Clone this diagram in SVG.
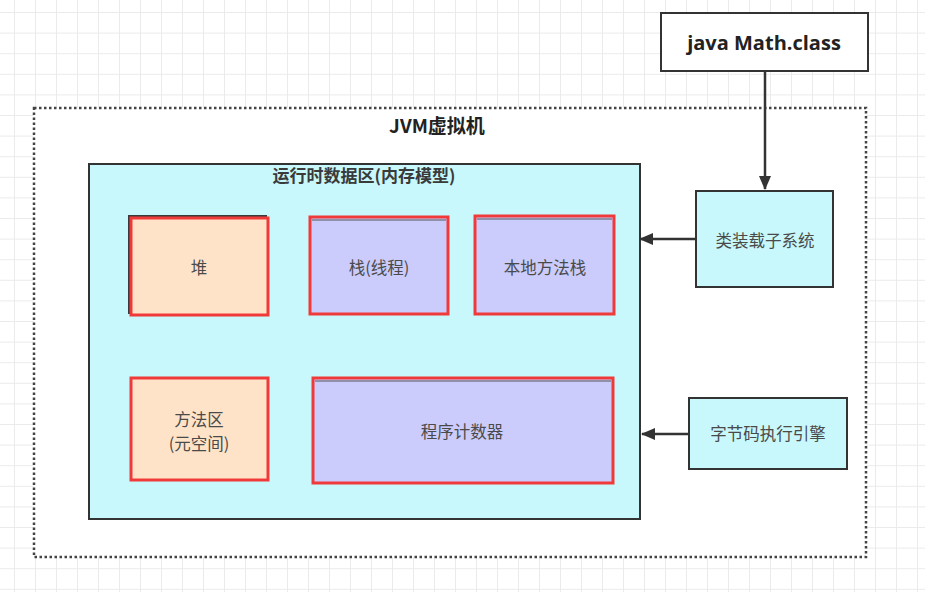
<svg xmlns="http://www.w3.org/2000/svg" width="925" height="592" viewBox="0 0 925 592">
  <defs>
    <pattern id="grid" x="14" y="12" width="21" height="20.6" patternUnits="userSpaceOnUse">
      <path d="M0 0.5 H21 M0.5 0 V20.6" fill="none" stroke="#ebebeb" stroke-width="1"/>
    </pattern>
    <marker id="arr" viewBox="0 0 14 12" refX="13" refY="6" markerWidth="14" markerHeight="12" markerUnits="userSpaceOnUse" orient="auto">
      <path d="M0 0 L14 6 L0 12 Z" fill="#333"/>
    </marker>
    <style>
      .cjk { font-family: "Noto Sans CJK SC", "Noto Sans", sans-serif; }
      .lbl { font-size: 16.5px; fill: #4a4a4a; text-anchor: middle; }
      .dark { fill: none; stroke: #3a3a3a; stroke-width: 2; }
      .red { stroke: #f03a3a; stroke-width: 3; }
      .peach { fill: #ffe3c8; }
      .lav { fill: #ccccfc; }
      .cyan { fill: #c8f8fb; stroke: #333; stroke-width: 2; }
      .conn { stroke: #333; stroke-width: 2.5; fill: none; }
    </style>
  </defs>
  <rect width="925" height="592" fill="#ffffff"/>
  <rect width="925" height="592" fill="url(#grid)"/>

  <g id="jvm">
    <rect x="34" y="108" width="832" height="449" fill="#ffffff" stroke="#444" stroke-width="2.5" stroke-dasharray="2.5 2.5"/>
    <text x="437" y="133" class="cjk" font-size="19" font-weight="bold" fill="#222" text-anchor="middle">JVM虚拟机</text>
  </g>

  <g id="runtime-area">
    <rect x="89" y="164" width="551" height="355" class="cyan"/>
    <text x="364" y="182" class="cjk" font-size="17" font-weight="bold" fill="#3a3a3a" text-anchor="middle">运行时数据区(内存模型)</text>
  </g>

  <g id="heap">
    <rect x="129" y="216" width="137" height="97" class="dark"/>
    <rect x="131" y="218" width="137" height="97" class="peach red"/>
    <text x="199" y="274" class="cjk lbl">堆</text>
  </g>

  <g id="stack">
    <rect x="310" y="217" width="138" height="97" class="lav red"/>
    <line x1="312" y1="220" x2="446" y2="220" stroke="#555" stroke-width="1"/>
    <text x="379" y="274" class="cjk lbl">栈(线程)</text>
  </g>

  <g id="native-stack">
    <rect x="475" y="216" width="139" height="98" class="lav red"/>
    <line x1="477" y1="219" x2="612" y2="219" stroke="#555" stroke-width="1"/>
    <text x="545" y="274" class="cjk lbl">本地方法栈</text>
  </g>

  <g id="method-area">
    <rect x="131" y="378" width="137" height="102" class="peach red"/>
    <text x="199" y="426" class="cjk lbl">方法区</text>
    <text x="199" y="450" class="cjk lbl">(元空间)</text>
  </g>

  <g id="pc-register">
    <rect x="313" y="378" width="300" height="105" class="lav red"/>
    <line x1="315" y1="381" x2="611" y2="381" stroke="#555" stroke-width="1"/>
    <text x="462" y="438" class="cjk lbl">程序计数器</text>
  </g>

  <g id="class-file">
    <rect x="661" y="13" width="207" height="58" fill="#ffffff" stroke="#333" stroke-width="2"/>
    <text x="764" y="50" font-family="'Open Sans', 'Noto Sans', sans-serif" font-size="20" font-weight="bold" fill="#222" text-anchor="middle">java Math.class</text>
  </g>

  <g id="class-loader">
    <rect x="696" y="191" width="137" height="96" class="cyan"/>
    <text x="765" y="247" class="cjk lbl">类装载子系统</text>
  </g>

  <g id="exec-engine">
    <rect x="689" y="398" width="158" height="71" class="cyan"/>
    <text x="768" y="440" class="cjk lbl">字节码执行引擎</text>
  </g>

  <g id="connectors">
    <line x1="765" y1="71" x2="765" y2="189" class="conn" marker-end="url(#arr)"/>
    <line x1="696" y1="239" x2="640" y2="239" class="conn" marker-end="url(#arr)"/>
    <line x1="689" y1="434" x2="642" y2="434" class="conn" marker-end="url(#arr)"/>
  </g>
</svg>
